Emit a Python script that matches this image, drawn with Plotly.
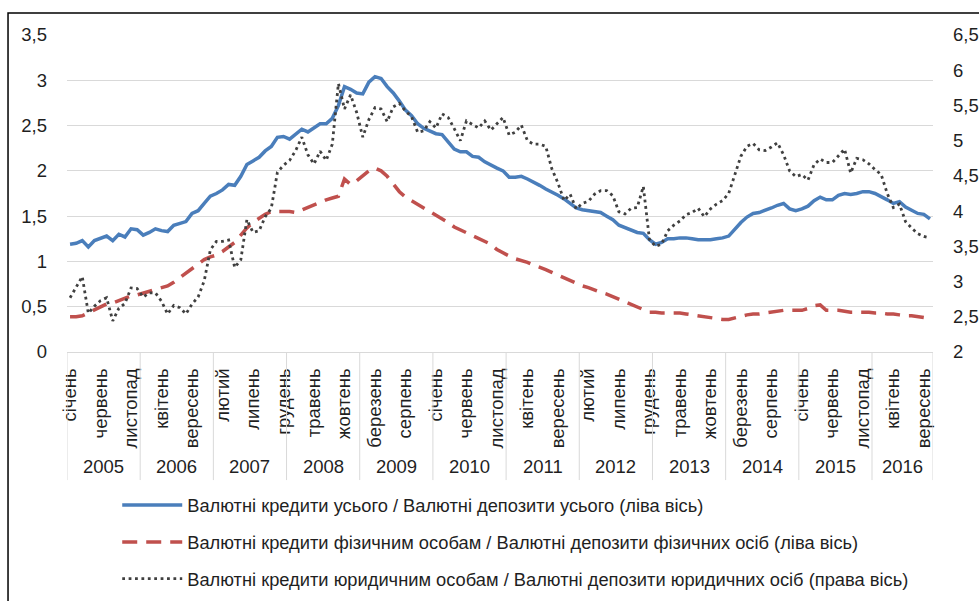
import plotly.graph_objects as go

months = ["січень", "лютий", "березень", "квітень", "травень", "червень",
          "липень", "серпень", "вересень", "жовтень", "листопад", "грудень"]
years = [str(y) for y in range(2005, 2017)]

total = [1.19,1.20,1.23,1.16,1.23,1.26,1.28,1.23,1.30,1.27,1.36,1.35,
 1.29,1.32,1.36,1.34,1.33,1.40,1.42,1.44,1.53,1.56,1.64,1.72,
 1.75,1.79,1.85,1.84,1.94,2.07,2.11,2.15,2.22,2.27,2.37,2.38,
 2.35,2.40,2.46,2.43,2.48,2.52,2.52,2.58,2.72,2.93,2.90,2.86,
 2.85,2.98,3.04,3.02,2.93,2.86,2.77,2.67,2.61,2.52,2.47,2.44,
 2.41,2.40,2.32,2.24,2.21,2.21,2.16,2.15,2.10,2.06,2.03,2.00,
 1.93,1.93,1.94,1.91,1.88,1.84,1.80,1.77,1.73,1.69,1.64,1.59,
 1.57,1.56,1.55,1.54,1.50,1.46,1.40,1.37,1.34,1.32,1.31,1.24,
 1.19,1.21,1.25,1.25,1.26,1.26,1.25,1.24,1.24,1.24,1.25,1.26,
 1.28,1.36,1.43,1.49,1.53,1.54,1.56,1.59,1.62,1.64,1.58,1.56,
 1.58,1.61,1.67,1.71,1.68,1.68,1.73,1.75,1.74,1.75,1.77,1.77,
 1.75,1.72,1.68,1.64,1.66,1.60,1.57,1.53,1.52,1.47]

households = [0.39,0.39,0.40,0.43,0.47,0.50,0.53,0.54,0.57,0.59,0.62,0.63,
 0.65,0.67,0.68,0.71,0.73,0.77,0.82,0.88,0.93,0.98,1.02,1.05,
 1.07,1.11,1.16,1.21,1.29,1.37,1.43,1.48,1.52,1.55,1.55,1.55,
 1.55,1.54,1.57,1.60,1.63,1.66,1.68,1.70,1.72,1.91,1.85,1.89,
 1.94,2.00,2.03,2.00,1.94,1.85,1.77,1.71,1.67,1.64,1.59,1.55,
 1.51,1.48,1.43,1.38,1.35,1.32,1.28,1.25,1.22,1.19,1.13,1.09,
 1.06,1.03,1.01,0.99,0.96,0.94,0.91,0.88,0.85,0.82,0.78,0.76,
 0.73,0.71,0.68,0.66,0.64,0.61,0.58,0.56,0.53,0.50,0.47,0.44,
 0.44,0.43,0.43,0.43,0.43,0.42,0.41,0.40,0.39,0.38,0.37,0.36,
 0.36,0.38,0.40,0.41,0.42,0.42,0.43,0.44,0.45,0.46,0.46,0.46,
 0.46,0.48,0.51,0.52,0.46,0.46,0.46,0.45,0.44,0.44,0.44,0.44,
 0.43,0.43,0.42,0.42,0.41,0.40,0.40,0.39,0.38,0.37]

corporates = [2.77,2.92,3.07,2.55,2.65,2.73,2.77,2.44,2.62,2.69,2.91,2.90,
 2.78,2.84,2.84,2.72,2.54,2.66,2.63,2.54,2.68,2.78,3.01,3.45,
 3.57,3.57,3.59,3.20,3.31,3.88,3.70,3.72,3.92,4.04,4.55,4.65,
 4.72,4.86,5.05,4.80,4.67,4.85,4.72,4.95,5.81,5.45,5.65,5.40,
 5.05,5.30,5.47,5.45,5.27,5.48,5.53,5.42,5.34,5.12,5.14,5.27,
 5.18,5.38,5.33,5.17,5.00,5.28,5.23,5.18,5.28,5.15,5.24,5.33,
 5.08,5.12,5.22,5.00,4.95,4.95,4.92,4.60,4.40,4.15,4.24,4.03,
 4.11,4.14,4.24,4.29,4.29,4.22,3.99,3.96,4.04,4.05,4.35,3.60,
 3.50,3.53,3.72,3.80,3.86,3.95,3.98,4.04,3.92,4.03,4.10,4.15,
 4.25,4.50,4.78,4.92,4.96,4.87,4.86,4.91,4.97,4.80,4.57,4.49,
 4.52,4.44,4.66,4.74,4.69,4.69,4.78,4.88,4.54,4.75,4.73,4.67,
 4.59,4.52,4.25,4.05,4.10,3.85,3.76,3.68,3.64,3.62]

names = ["Валютні кредити усього / Валютні депозити усього (ліва вісь)",
         "Валютні кредити фізичним особам / Валютні депозити фізичних осіб (ліва вісь)",
         "Валютні кредити юридичним особам / Валютні депозити юридичних осіб (права вісь)"]

n = len(total)
x = list(range(n))
month_names = [months[i % 12] for i in range(n)]
tick_step = 5
tickvals = x[::tick_step]
ticktext = month_names[::tick_step]

FONT = "Liberation Sans, Arial, sans-serif"
GRID = "#d9d9d9"
TXT = "#1f1f1f"
FS = 18.5

fig = go.Figure()
fig.add_trace(go.Scatter(x=x, y=total, name=names[0], mode="lines", legendgroup="a",
                         line=dict(color="#4a7ebb", width=3.5)))
fig.add_trace(go.Scatter(x=x, y=households, name=names[1], mode="lines", legendgroup="b",
                         line=dict(color="#c0504d", width=3.5, dash="15px,9px")))
fig.add_trace(go.Scatter(x=x, y=corporates, name=names[2], mode="lines", legendgroup="c",
                         yaxis="y2", line=dict(color="#404040", width=2.8, dash="2.8px,3.6px")))

shapes = []
bounds = [i - 0.5 for i in range(0, n, 12)] + [n - 0.5]
for b in bounds:
    shapes.append(dict(type="line", xref="x", yref="paper", x0=b, x1=b, y0=0, y1=-0.404,
                       line=dict(color=GRID, width=1)))
shapes.append(dict(type="rect", xref="paper", yref="paper", x0=-0.0681, x1=1.08, y0=-0.85, y1=1.0694,
                   line=dict(color="black", width=1.5), layer="below"))

annotations = []
for k, yr in enumerate(years):
    start = k * 12
    end = min(start + 12, n) - 1
    annotations.append(dict(x=(start + end) / 2, y=-0.36, xref="x", yref="paper", text=yr,
                            showarrow=False, font=dict(size=FS, color=TXT, family=FONT),
                            yanchor="middle"))

fig.update_layout(
    width=979, height=601,
    margin=dict(l=67, r=46, t=35, b=249, autoexpand=False),
    paper_bgcolor="white", plot_bgcolor="white",
    separators=", ",
    font=dict(family=FONT, size=FS, color=TXT),
    showlegend=True,
    legend=dict(x=0.058, y=-0.425, xanchor="left", yanchor="top", orientation="v",
                font=dict(size=18.3, color=TXT, family=FONT),
                itemwidth=60, tracegroupgap=10, bgcolor="rgba(0,0,0,0)"),
    xaxis=dict(range=[-0.5, n - 0.5], tickmode="array", tickvals=tickvals, ticktext=ticktext,
               tickangle=-90, showgrid=False, zeroline=False, showline=True, linecolor=GRID,
               linewidth=1, ticks="", tickfont=dict(size=FS, color=TXT), ticklabelstandoff=8,
               automargin=False),
    yaxis=dict(range=[0, 3.5], dtick=0.5, showgrid=True, gridcolor=GRID, gridwidth=1.2,
               zeroline=False, showline=False, ticks="", tickfont=dict(size=FS, color=TXT),
               ticklabelstandoff=19, automargin=False),
    yaxis2=dict(range=[2, 6.5], dtick=0.5, overlaying="y", side="right", showgrid=False,
                zeroline=False, showline=False, ticks="", tickfont=dict(size=FS, color=TXT),
                ticklabelstandoff=19, automargin=False),
    shapes=shapes, annotations=annotations,
)

fig.write_html("out.html", config={"displayModeBar": False},
               post_script="document.body.style.margin='0';document.body.style.overflow='hidden';")
